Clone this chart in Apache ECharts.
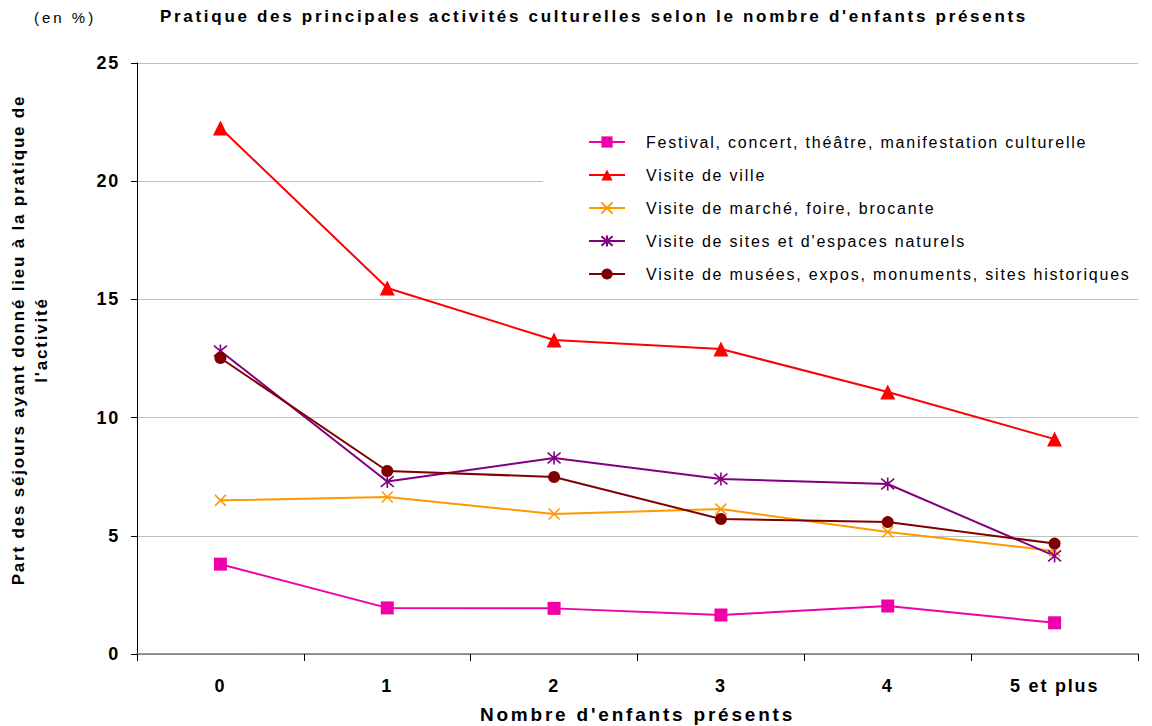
<!DOCTYPE html>
<html>
<head>
<meta charset="utf-8">
<script src="https://cdn.jsdelivr.net/npm/echarts@6/dist/echarts.min.js"></script>
<style>
html,body{margin:0;padding:0;background:#fff;overflow:hidden;}
#chart{width:1152px;height:726px;}
</style>
</head>
<body>
<div id="chart"></div>
<script>
var categories = ['0', '1', '2', '3', '4', '5 et plus'];
var festival = [3.8, 1.95, 1.93, 1.65, 2.03, 1.32];
var ville = [22.25, 15.48, 13.28, 12.9, 11.08, 9.09];
var marche = [6.5, 6.64, 5.92, 6.13, 5.16, 4.36];
var sitesNaturels = [12.82, 7.3, 8.29, 7.4, 7.19, 4.15];
var musees = [12.52, 7.74, 7.49, 5.71, 5.58, 4.67];
var yTicks = [0, 5, 10, 15, 20, 25];

var seriesNames = [
  'Festival, concert, théâtre, manifestation culturelle',
  'Visite de ville',
  'Visite de marché, foire, brocante',
  'Visite de sites et d\'espaces naturels',
  'Visite de musées, expos, monuments, sites historiques'
];
var titleText = 'Pratique des principales activités culturelles selon le nombre d\'enfants présents';
var xName = 'Nombre d\'enfants présents';
var yName1 = 'Part des séjours ayant donné lieu à la pratique de';
var yName2 = 'l\'activité';
var unitText = '(en %)';

var FONT = '"Liberation Sans", Arial, sans-serif';
var crossPath = 'path://M0,0L10,10M10,0L0,10';
var starPath = 'path://M0,0L10,10M10,0L0,10M5,-1L5,11';

function mk(name, data, color, symbol, size, stroke) {
  return {
    name: name,
    type: 'line',
    data: data,
    symbol: symbol,
    symbolSize: size,
    showAllSymbol: true,
    lineStyle: { color: color, width: 2 },
    itemStyle: stroke ? { color: color, borderColor: color, borderWidth: 1.6 } : { color: color, borderWidth: 0 },
    emphasis: { disabled: true },
    z: 3
  };
}

var chart = echarts.init(document.getElementById('chart'), null, { renderer: 'svg' });
chart.setOption({
  animation: false,
  backgroundColor: '#ffffff',
  textStyle: { fontFamily: FONT },
  title: {
    text: titleText,
    left: 589, top: 3, textAlign: 'center',
    textStyle: { fontFamily: FONT, fontSize: 17, fontWeight: 'bold', color: '#000' }
  },
  graphic: [
    { type: 'text', left: 34, top: 10, style: { text: unitText, font: '15px ' + FONT, fill: '#000' } },
    { type: 'text', x: 30, y: 340, rotation: Math.PI / 2,
      style: { text: yName1 + '\n' + yName2, font: 'bold 17px ' + FONT,
        fill: '#000', align: 'center', verticalAlign: 'middle', lineHeight: 23 } }
  ],
  legend: {
    orient: 'vertical',
    left: 543, top: 128,
    padding: [6, 140, 6, 45],
    backgroundColor: '#ffffff',
    itemWidth: 36, itemHeight: 14,
    itemGap: 17,
    textStyle: { fontFamily: FONT, fontSize: 16, color: '#000', padding: [0, 0, 0, 16] },
    data: seriesNames,
    z: 2
  },
  grid: { left: 137, right: 14, top: 63, bottom: 72, containLabel: false, outerBoundsMode: 'none' },
  xAxis: {
    type: 'category',
    data: categories,
    boundaryGap: true,
    axisLine: { lineStyle: { color: '#777', width: 1.5 } },
    axisTick: { show: true, length: 7, lineStyle: { color: '#000' }, alignWithLabel: false },
    axisLabel: { fontFamily: FONT, fontSize: 18, fontWeight: 'bold', color: '#000', margin: 23 },
    name: xName,
    nameLocation: 'middle',
    nameGap: 51,
    nameTextStyle: { fontFamily: FONT, fontSize: 19, fontWeight: 'bold', color: '#000' }
  },
  yAxis: {
    type: 'value',
    min: yTicks[0], max: yTicks[yTicks.length - 1], interval: 5,
    axisLine: { show: true, lineStyle: { color: '#000', width: 1 } },
    axisTick: { show: true, length: 6, lineStyle: { color: '#000' } },
    axisLabel: { fontFamily: FONT, fontSize: 18, fontWeight: 'bold', color: '#000', margin: 17 },
    splitLine: { show: true, lineStyle: { color: '#c0c0c0', width: 1 } }
  },
  series: [
    mk(seriesNames[0], festival, '#F000A8', 'rect', 13, false),
    mk(seriesNames[1], ville, '#FF0000', 'triangle', 15, false),
    mk(seriesNames[2], marche, '#FF9900', crossPath, 11, true),
    mk(seriesNames[3], sitesNaturels, '#800080', starPath, 13, true),
    mk(seriesNames[4], musees, '#800000', 'circle', 12, false)
  ]
});

// Reproduce the wide glyph spacing of the original export
function applySpacing() {
  var texts = document.querySelectorAll('#chart svg text');
  texts.forEach(function (t) {
    var s = t.textContent;
    var ls = null;
    if (s === titleText) ls = 2.7;
    else if (s === xName) ls = 2.8;
    else if (s === yName1 || s === yName2) ls = 1.8;
    else if (s === unitText) ls = 3;
    else if (seriesNames.indexOf(s) >= 0) ls = 1.8;
    else if (categories.indexOf(s) >= 0 || yTicks.map(String).indexOf(s) >= 0) ls = 1.8;
    if (ls !== null) t.style.letterSpacing = ls + 'px';
  });
}
applySpacing();
chart.on('finished', applySpacing);
</script>
</body>
</html>
